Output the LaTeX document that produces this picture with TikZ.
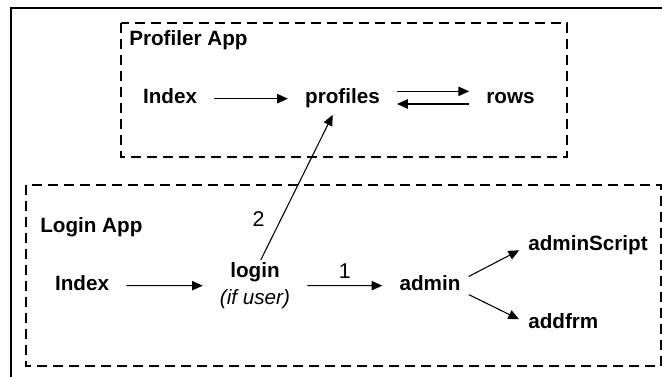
\documentclass[tikz,border=0pt]{standalone}
\usepackage{fontspec}
\setmainfont{Liberation Sans}
\usepackage{tikz}
\usetikzlibrary{arrows.meta}

\begin{document}
\begin{tikzpicture}[x=0.75pt,y=-0.75pt]
	\tikzset{block/.style = {font=\bfseries\fontsize{15.5}{18}\selectfont, inner sep=0pt, text height=11pt, text depth=3pt, anchor=base}}
	\tikzset{title/.style = {font=\bfseries\fontsize{15.5}{18}\selectfont, inner sep=0pt, anchor=base west}}
	\tikzset{num/.style = {font=\fontsize{16}{18}\selectfont, inner sep=0pt}}
	\tikzset{edge/.style = {-{Triangle[length=8pt,width=7pt]}, line width=0.8pt, shorten <=12.75pt, shorten >=12.75pt}}
	\tikzset{app/.style = {dash pattern=on 7.5pt off 4.5pt, line width=0.9pt}}
	\useasboundingbox (0,0) rectangle (662,377);
	% frame and apps
	\draw[line width=1.5pt] (11,377) -- (11,8) -- (662,8);
	\draw[app] (121,23) rectangle (567,157);
	\draw[app] (26,185) rectangle (661,366);
	\node[title] (profTitle) at (129,46) {Profiler App};
	\node[title] (loginTitle) at (40,233) {Login App};
	% profiler nodes
	\node[block] (pIndex) at (170,104) {Index};
	\node[block] (profiles) at (342.5,104) {profiles};
	\node[block] (rows) at (510.5,104) {rows};
	% login nodes
	\node[block] (lIndex) at (82,291) {Index};
	\node[font=\bfseries\fontsize{15.5}{20}\selectfont, inner sep=0pt, align=center] (login) at (255,285.7) {login\\{\mdseries\itshape (if user)}};
	\node[block] (admin) at (430,291) {admin};
	\node[block, anchor=base west] (adminScript) at (528,251) {adminScript};
	\node[block, anchor=base west] (addfrm) at (528,329) {addfrm};
	% edges
	\draw[edge] (pIndex) -- (profiles);
	\draw[edge] ([yshift=5.5pt]profiles.east) -- ([yshift=5.5pt]rows.west);
	\draw[edge] ([yshift=-4pt]rows.west) -- ([yshift=-4pt]profiles.east);
	\draw[edge] (lIndex) -- (login);
	\draw[edge] (login) -- (admin) node[num, midway, above=5pt] {1};
	\draw[edge, shorten <=2pt, shorten >=5.5pt] ([xshift=3.4pt]login.north) -- ([xshift=-4.9pt]profiles.south) node[num, pos=0.28, left=12pt] {2};
	\draw[edge, shorten <=6.75pt, shorten >=7.5pt] ([yshift=3.75pt]admin.east) -- (adminScript.west);
	\draw[edge, shorten <=6.75pt, shorten >=7.5pt] ([yshift=-3.75pt]admin.east) -- (addfrm.west);
\end{tikzpicture}
\end{document}
